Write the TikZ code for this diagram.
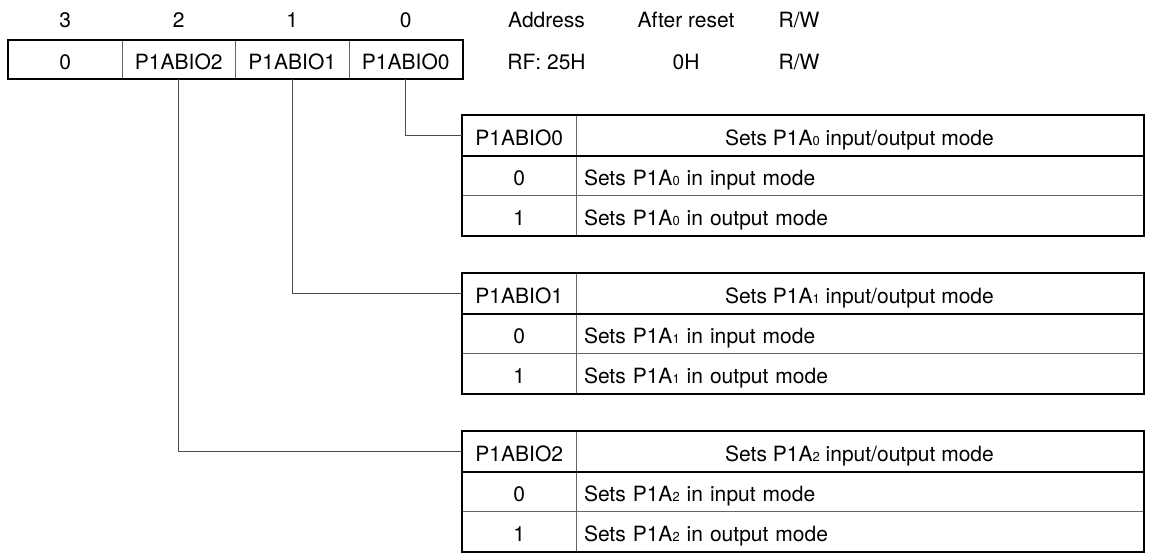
\documentclass[tikz,border=0pt]{standalone}
\usepackage{fontspec}
\setmainfont{TeX Gyre Heros}
\newcommand\subidx[1]{{\fontsize{6.5pt}{7pt}\selectfont #1}}
\begin{document}
\begin{tikzpicture}[x=0.5pt,y=-0.5pt,
  every node/.style={font=\fontsize{10.5pt}{12.6pt}\selectfont},
  cell/.style={draw=black!60, line width=0.5pt, inner sep=0pt, minimum height=20pt, text height=11pt, text depth=1.5pt},
  regcell/.style={cell, minimum width=56.75pt, minimum height=19pt},
  keycell/.style={cell, minimum width=56.75pt},
  desccell/.style={cell, minimum width=283.5pt},
  desclcell/.style={cell, text width=275.5pt, inner xsep=4pt, align=left},
  frame/.style={draw=black, line width=1pt},
  conn/.style={draw=black!70, line width=0.5pt},
  label/.style={anchor=base}]
\useasboundingbox (0,0) rectangle (1152,560);

% bit numbers and register attributes
\node[label] (b3) at (65.25,28) {3};
\node[label] (b2) at (178.75,28) {2};
\node[label] (b1) at (292.25,28) {1};
\node[label] (b0) at (405.75,28) {0};
\node[label] (addr) at (546.5,28) {Address};
\node[label] (rst) at (686,28) {After reset};
\node[label] (rw) at (799,28) {R/W};
\node[label] (addrv) at (546.5,69.5) {RF: 25H};
\node[label] (rstv) at (686,69.5) {0H};
\node[label] (rwv) at (799,69.5) {R/W};

% register
\node[regcell] (c3) at (65.25,60) {0};
\node[regcell] (c2) at (178.75,60) {P1ABIO2};
\node[regcell] (c1) at (292.25,60) {P1ABIO1};
\node[regcell] (c0) at (405.75,60) {P1ABIO0};
\draw[frame] (c3.north west) rectangle (c0.south east);

% tables
\foreach \i/\tp in {0/116,1/274,2/432}{
  \node[keycell] (k\i) at (519.25,\tp+20) {P1ABIO\i};
  \node[desccell] (d\i) at (859.5,\tp+20) {Sets P1A\subidx{\i} input/output mode};
  \node[keycell] (k\i a) at (519.25,\tp+60) {0};
  \node[desclcell] (d\i a) at (859.5,\tp+60) {Sets P1A\subidx{\i} in input mode};
  \node[keycell] (k\i b) at (519.25,\tp+100) {1};
  \node[desclcell] (d\i b) at (859.5,\tp+100) {Sets P1A\subidx{\i} in output mode};
  \draw[frame] (k\i.south west) -- (d\i.south east);
  \draw[frame] (k\i.north west) rectangle (d\i b.south east);
}

% connectors
\draw[conn] (c0.south) |- (k0.west);
\draw[conn] (c1.south) |- (k1.west);
\draw[conn] (c2.south) |- (k2.west);
\end{tikzpicture}
\end{document}
